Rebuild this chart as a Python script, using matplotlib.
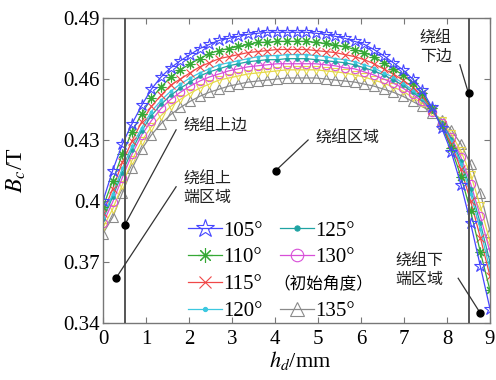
import numpy as np
import matplotlib
matplotlib.use("Agg")
import matplotlib.pyplot as plt
from matplotlib.lines import Line2D

plt.rcParams['mathtext.fontset'] = 'stix'
plt.rcParams['font.family'] = ['Liberation Serif', 'Noto Sans CJK SC']

# position along the winding height, mm
h_d = np.linspace(0.0, 9.0, 41)

b_105 = [0.400, 0.415, 0.428, 0.438, 0.447, 0.455, 0.461, 0.4655, 0.469, 0.472,
         0.475, 0.477, 0.479, 0.480, 0.481, 0.482, 0.4825, 0.483, 0.483, 0.483,
         0.483, 0.483, 0.4825, 0.482, 0.481, 0.480, 0.4785, 0.477, 0.4745, 0.4715,
         0.468, 0.4645, 0.460, 0.4545, 0.446, 0.436, 0.424, 0.408, 0.389, 0.368, 0.347]
b_110 = [0.397, 0.410, 0.423, 0.434, 0.443, 0.4505, 0.456, 0.461, 0.4645, 0.4675,
         0.470, 0.4725, 0.474, 0.475, 0.476, 0.477, 0.478, 0.478, 0.4785, 0.4785,
         0.4785, 0.4785, 0.478, 0.4775, 0.4765, 0.476, 0.4745, 0.473, 0.471, 0.468,
         0.465, 0.462, 0.458, 0.453, 0.4455, 0.437, 0.426, 0.412, 0.395, 0.375, 0.356]
b_115 = [0.394, 0.406, 0.419, 0.4295, 0.439, 0.4465, 0.452, 0.457, 0.460, 0.463,
         0.466, 0.468, 0.470, 0.471, 0.472, 0.473, 0.4735, 0.474, 0.4745, 0.4745,
         0.4745, 0.4745, 0.474, 0.4735, 0.473, 0.472, 0.471, 0.4695, 0.4675, 0.465,
         0.4625, 0.4595, 0.456, 0.4515, 0.445, 0.4375, 0.428, 0.4155, 0.400, 0.382, 0.363]
b_120 = [0.392, 0.4035, 0.416, 0.427, 0.436, 0.444, 0.4495, 0.454, 0.4575, 0.4605,
         0.463, 0.465, 0.467, 0.468, 0.469, 0.470, 0.471, 0.4715, 0.4715, 0.472,
         0.472, 0.472, 0.4715, 0.471, 0.470, 0.4695, 0.4685, 0.467, 0.4655, 0.463,
         0.461, 0.458, 0.4545, 0.4505, 0.445, 0.438, 0.4295, 0.418, 0.4035, 0.386, 0.366]
b_125 = [0.391, 0.402, 0.414, 0.425, 0.4345, 0.442, 0.4475, 0.452, 0.4555, 0.4585,
         0.4615, 0.4635, 0.465, 0.4665, 0.4675, 0.4685, 0.469, 0.4695, 0.4695, 0.470,
         0.470, 0.470, 0.4695, 0.469, 0.4685, 0.468, 0.467, 0.4655, 0.464, 0.462,
         0.4595, 0.457, 0.4535, 0.450, 0.4445, 0.4385, 0.4305, 0.4195, 0.406, 0.389, 0.370]
b_130 = [0.389, 0.3995, 0.4115, 0.423, 0.4325, 0.4395, 0.4455, 0.450, 0.4535, 0.4565,
         0.459, 0.461, 0.4625, 0.464, 0.465, 0.466, 0.4665, 0.467, 0.4675, 0.4675,
         0.4675, 0.4675, 0.4675, 0.467, 0.4665, 0.4655, 0.465, 0.4635, 0.462, 0.460,
         0.458, 0.4555, 0.4525, 0.449, 0.444, 0.4385, 0.4315, 0.4215, 0.4085, 0.3925, 0.375]
b_yel = [0.387, 0.396, 0.408, 0.420, 0.4295, 0.4365, 0.442, 0.4465, 0.450, 0.453,
         0.4555, 0.4575, 0.4595, 0.4605, 0.4615, 0.4625, 0.463, 0.4635, 0.464, 0.4645,
         0.4645, 0.4645, 0.4645, 0.464, 0.4635, 0.463, 0.462, 0.461, 0.4595, 0.458,
         0.456, 0.454, 0.451, 0.448, 0.444, 0.4395, 0.433, 0.4245, 0.413, 0.3975, 0.380]
b_135 = [0.384, 0.392, 0.404, 0.416, 0.4255, 0.4325, 0.438, 0.4425, 0.446, 0.449,
         0.4515, 0.4535, 0.455, 0.4565, 0.4575, 0.4585, 0.459, 0.4595, 0.460, 0.4605,
         0.4605, 0.4605, 0.4605, 0.460, 0.4595, 0.459, 0.4585, 0.4575, 0.4565, 0.455,
         0.4535, 0.4515, 0.449, 0.4465, 0.4435, 0.440, 0.435, 0.428, 0.418, 0.404, 0.385]

x_ticks = [0, 1, 2, 3, 4, 5, 6, 7, 8, 9]
y_ticks = [0.34, 0.37, 0.40, 0.43, 0.46, 0.49]
y_tick_labels = ['0.34', '0.37', '0.4', '0.43', '0.46', '0.49']
edge_lines = [0.5, 8.5]

fig = plt.figure(figsize=(4.96, 3.80), dpi=100)
ax = fig.add_axes([103 / 496, 1 - 323 / 380, 387 / 496, 305 / 380])

series = [
    (b_135, '135°', '#8a8a8a', '^', dict(markerfacecolor='none', markersize=7)),
    (b_yel, None, '#e6d84a', 'v', dict(markerfacecolor='none', markersize=6)),
    (b_130, '130°', '#d84fd8', 'o', dict(markerfacecolor='none', markersize=6)),
    (b_125, '125°', '#1fa3a3', '.', dict(markersize=5)),
    (b_120, '120°', '#3cc8e0', '.', dict(markersize=4)),
    (b_115, '115°', '#f04848', 'x', dict(markersize=6)),
    (b_110, '110°', '#35a835', (8, 2, 0), dict(markersize=7)),
    (b_105, '105°', '#4646ff', '*', dict(markerfacecolor='none', markersize=9)),
]
handles = {}
for vals, lab, col, mk, kw in series:
    ln, = ax.plot(h_d, vals, color=col, marker=mk, lw=0.9, markeredgewidth=0.8,
                  markeredgecolor=col, **kw)
    if lab:
        handles[lab] = ln

for xv in edge_lines:
    ax.axvline(xv, color='#555555', lw=1.4, zorder=5)

ax.set_xlim(0, 9)
ax.set_ylim(0.34, 0.49)
ax.set_xticks(x_ticks)
ax.set_yticks(y_ticks)
ax.set_yticklabels(y_tick_labels)
ax.tick_params(direction='in', top=True, right=True, length=4, width=0.8,
               color='#777777', labelsize=15)
ax.tick_params(axis='y', pad=2)
ax.tick_params(axis='x', pad=5)
for sp in ax.spines.values():
    sp.set_color('#777777')
    sp.set_linewidth(1.0)

ax.set_xlabel(r'$h_d$/mm', fontsize=16)
ax.set_ylabel(r'$B_c$/T', fontsize=17)
ax.xaxis.set_label_coords(0.509, -0.085)
ax.yaxis.set_label_coords(-0.195, 0.5)

blank = Line2D([], [], color='none')
order = ['105°', '110°', '115°', '120°', '125°', '130°', None, '135°']
leg_handles = [handles[k] if k else blank for k in order]
leg_labels = [k if k else ' ' for k in order]
leg = ax.legend(leg_handles, leg_labels, ncol=2, frameon=False, fontsize=15,
                loc='upper left', bbox_to_anchor=(188 / 496, 1 - 221 / 380),
                bbox_transform=fig.transFigure, borderpad=0, borderaxespad=0,
                handlelength=1.63, handletextpad=0.05, labelspacing=0.35,
                columnspacing=0.85, markerscale=1.5)
fig.text(273 / 496, 1 - 284 / 380, '（初始角度）', fontsize=12,
         family='Noto Sans CJK SC', va='center', ha='left')

cjk = dict(fontsize=11.5, family='Noto Sans CJK SC', color='#222222')
notes = [
    ('绕组上边', (0.5, 0.388), (1.70, 0.435), (1.86, 0.437), 'left'),
    ('绕组上\n端区域', (0.30, 0.362), (1.70, 0.407), (1.86, 0.406), 'left'),
    ('绕组区域', (4.02, 0.415), (4.77, 0.430), (4.93, 0.431), 'left'),
    ('绕组\n下边', (8.5, 0.453), (8.30, 0.467), (7.37, 0.4757), 'left'),
    ('绕组下\n端区域', (8.77, 0.345), (8.26, 0.362), (6.79, 0.366), 'left'),
]
for txt, dot, tail, pos, ha in notes:
    ax.plot([dot[0], tail[0]], [dot[1], tail[1]], color='#333333', lw=0.9, zorder=6)
    ax.plot(*dot, 'o', color='black', markersize=5, zorder=7)
    ax.text(pos[0], pos[1], txt, ha=ha, va='center', linespacing=1.1, **cjk)

fig.savefig('out.png', dpi=100, facecolor='white')
